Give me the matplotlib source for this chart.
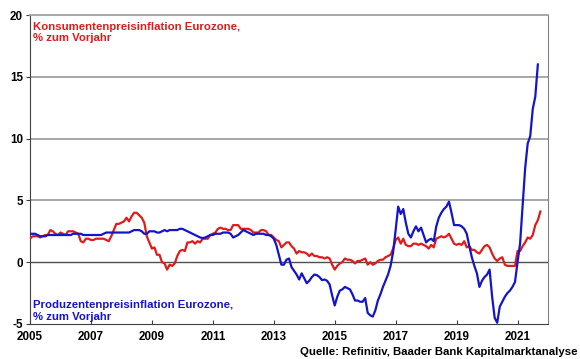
import numpy as np
import matplotlib
matplotlib.use("Agg")
import matplotlib.pyplot as plt

plt.rcParams['font.family'] = ['Liberation Sans', 'DejaVu Sans']
plt.rcParams['font.weight'] = 'bold'

# Monatswerte, Jan 2005 bis Okt 2021 (Verbraucherpreise, % yoy)
cpi = [1.9, 2.1, 2.1, 2.1, 2.0, 2.1, 2.2, 2.2, 2.6, 2.5, 2.3, 2.2,
       2.4, 2.3, 2.2, 2.5, 2.5, 2.5, 2.4, 2.3, 1.7, 1.6, 1.9, 1.9,
       1.8, 1.8, 1.9, 1.9, 1.9, 1.9, 1.8, 1.7, 2.1, 2.6, 3.1, 3.1,
       3.2, 3.3, 3.6, 3.3, 3.7, 4.0, 4.0, 3.8, 3.6, 3.2, 2.1, 1.6,
       1.1, 1.2, 0.6, 0.6, 0.0, -0.1, -0.6, -0.2, -0.3, -0.1, 0.5, 0.9,
       1.0, 0.9, 1.6, 1.6, 1.7, 1.5, 1.7, 1.6, 1.9, 1.9, 1.9, 2.2,
       2.3, 2.4, 2.7, 2.8, 2.7, 2.7, 2.6, 2.6, 3.0, 3.0, 3.0, 2.7,
       2.7, 2.7, 2.7, 2.6, 2.4, 2.4, 2.4, 2.6, 2.6, 2.5, 2.2, 2.2,
       2.0, 1.8, 1.7, 1.2, 1.4, 1.6, 1.6, 1.3, 1.1, 0.7, 0.9, 0.8,
       0.8, 0.7, 0.5, 0.7, 0.5, 0.5, 0.4, 0.4, 0.3, 0.4, 0.3, -0.2,
       -0.6, -0.3, -0.1, 0.0, 0.3, 0.2, 0.2, 0.1, -0.1, 0.1, 0.1, 0.2,
       0.3, -0.2, 0.0, -0.2, -0.1, 0.1, 0.2, 0.2, 0.4, 0.5, 0.6, 1.1,
       1.8, 2.0, 1.5, 1.9, 1.4, 1.3, 1.3, 1.5, 1.5, 1.4, 1.5, 1.4,
       1.3, 1.1, 1.4, 1.2, 1.9, 2.0, 2.1, 2.0, 2.1, 2.3, 1.9, 1.5,
       1.4, 1.5, 1.4, 1.7, 1.2, 1.3, 1.0, 1.0, 0.8, 0.7, 1.0, 1.3,
       1.4, 1.2, 0.7, 0.3, 0.1, 0.3, 0.4, -0.2, -0.3, -0.3, -0.3, -0.3,
       0.9, 0.9, 1.3, 1.6, 2.0, 1.9, 2.2, 3.0, 3.4, 4.1]

# Erzeugerpreise, Jan 2005 bis Sep 2021
ppi = [2.3, 2.3, 2.3, 2.2, 2.1, 2.1, 2.1, 2.2, 2.2, 2.2, 2.2, 2.2,
       2.2, 2.2, 2.2, 2.2, 2.2, 2.3, 2.3, 2.3, 2.3, 2.2, 2.2, 2.2,
       2.2, 2.2, 2.2, 2.2, 2.2, 2.3, 2.4, 2.4, 2.4, 2.4, 2.4, 2.4,
       2.4, 2.4, 2.4, 2.4, 2.5, 2.6, 2.6, 2.6, 2.5, 2.3, 2.3, 2.5,
       2.5, 2.5, 2.4, 2.4, 2.5, 2.6, 2.5, 2.6, 2.6, 2.6, 2.6, 2.7,
       2.7, 2.6, 2.5, 2.4, 2.3, 2.2, 2.1, 2.0, 1.95, 2.0, 2.1, 2.2,
       2.2, 2.3, 2.3, 2.3, 2.4, 2.4, 2.4, 2.3, 2.0, 2.1, 2.2, 2.4,
       2.6, 2.5, 2.4, 2.3, 2.2, 2.3, 2.3, 2.3, 2.3, 2.2, 2.2, 2.1,
       1.9, 1.4, 0.6, -0.2, -0.2, 0.2, 0.3, -0.4, -0.7, -1.0, -1.4, -0.9,
       -1.3, -1.7, -1.5, -1.2, -1.0, -1.05, -1.2, -1.45, -1.4, -1.5, -1.8, -2.7,
       -3.5, -2.8, -2.3, -2.2, -2.0, -2.1, -2.2, -2.6, -3.1, -3.1, -3.2, -3.2,
       -2.9, -4.1, -4.3, -4.4, -3.9, -3.1, -2.6, -2.0, -1.5, -1.0, -0.3, 0.8,
       2.6, 4.5, 3.9, 4.3, 3.2, 2.3, 2.0, 2.5, 2.9, 2.5, 2.8, 2.2,
       1.6, 1.8, 1.9, 1.7, 2.9, 3.6, 4.0, 4.3, 4.5, 4.9, 4.0, 3.0,
       3.0, 3.0, 2.9, 2.7, 2.3, 1.3, 0.4, -0.3, -0.9, -2.0, -1.5, -1.2,
       -1.0, -0.6, -2.8, -4.5, -4.9, -3.6, -3.2, -2.8, -2.5, -2.3, -2.0, -1.6,
       0.0, 1.5, 4.5, 7.6, 9.6, 10.2, 12.4, 13.4, 16.0]

start_year = 2005
year_ticks = list(range(2005, 2022, 2))
y_ticks = [-5, 0, 5, 10, 15, 20]

red = '#e01b1b'
blue = '#1414c8'

x_cpi = start_year + np.arange(len(cpi)) / 12
x_ppi = start_year + np.arange(len(ppi)) / 12

fig = plt.figure(figsize=(5.8, 3.59), dpi=100)
ax = fig.add_axes([30 / 580, 1 - 324 / 359, 518 / 580, 309 / 359])

for v in [5, 10, 15]:
    ax.axhline(v, color='#a0a0a0', lw=1.3, zorder=1)
ax.axhline(0, color='#505050', lw=1.0, zorder=1)

ax.plot(x_cpi, cpi, color=red, lw=1.6, zorder=3)
ax.plot(x_ppi, ppi, color=blue, lw=1.6, zorder=4)

ax.set_xlim(2005, 2022)
ax.set_ylim(-5, 20)
ax.set_xticks(year_ticks)
ax.set_yticks(y_ticks)
ax.set_xticklabels([str(y) for y in year_ticks], fontsize=8.4, fontweight='bold')
ax.set_yticklabels([str(y) for y in y_ticks], fontsize=8.4, fontweight='bold')
ax.tick_params(axis='x', direction='in', length=3, pad=5, color='#404040')
ax.tick_params(axis='y', direction='out', length=3, pad=2, color='#404040')

ax.spines['left'].set_color('#404040')
ax.spines['bottom'].set_color('#404040')
ax.spines['top'].set_color('#a0a0a0')
ax.spines['top'].set_linewidth(1.3)
ax.spines['right'].set_color('#808080')

ax.text(0.006, 0.978, 'Konsumentenpreisinflation Eurozone,\n% zum Vorjahr',
        transform=ax.transAxes, color=red, fontsize=8.2, fontweight='bold',
        va='top', ha='left', linespacing=1.2)
ax.text(0.006, 0.008, 'Produzentenpreisinflation Eurozone,\n% zum Vorjahr',
        transform=ax.transAxes, color=blue, fontsize=8.2, fontweight='bold',
        va='bottom', ha='left', linespacing=1.2)

fig.text(577 / 580, 1 - 352 / 359, 'Quelle: Refinitiv, Baader Bank Kapitalmarktanalyse',
         fontsize=8.2, fontweight='bold', ha='right', va='center')

fig.savefig('out.png', dpi=100)
